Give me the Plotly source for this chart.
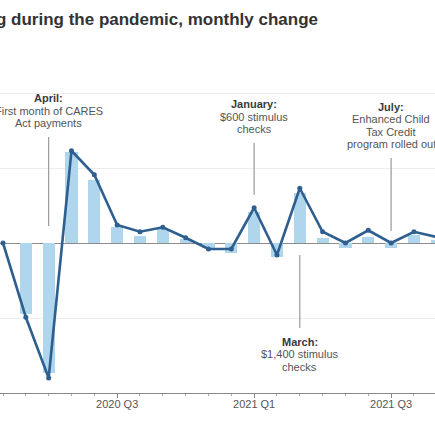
import plotly.graph_objects as go

# ---- data (monthly change, %) ----
months = ["2020-02", "2020-03", "2020-04", "2020-05", "2020-06", "2020-07",
          "2020-08", "2020-09", "2020-10", "2020-11", "2020-12", "2021-01",
          "2021-02", "2021-03", "2021-04", "2021-05", "2021-06", "2021-07",
          "2021-08", "2021-09"]
bar_values = [0.0, -4.75, -8.65, 6.05, 4.2, 1.05, 0.45, 0.95, 0.25, -0.3,
              -0.65, 2.05, -0.95, 3.35, 0.35, -0.35, 0.4, -0.35, 0.55, 0.2]
line_values = [0.0, -4.95, -9.0, 6.15, 4.55, 1.2, 0.75, 1.05, 0.35, -0.4,
               -0.4, 2.35, -0.8, 3.65, 0.75, 0.0, 0.85, 0.0, 0.75, 0.4]
tick_months = ["2020-01", "2020-07", "2021-01", "2021-07"]
tick_labels = ["2020 Q1", "2020 Q3", "2021 Q1", "2021 Q3"]
title_text = "Consumer spending during the pandemic, monthly change"

events = [
    # month, heading, body lines, connector from, connector to, side
    ("2020-04", "April:", ["First month of CARES", "Act payments"], 7.07, 1.13, "above"),
    ("2021-01", "January:", ["$600 stimulus", "checks"], 6.67, 3.2, "above"),
    ("2021-07", "July:", ["Enhanced Child", "Tax Credit", "program rolled out"], 5.67, 0.8, "above"),
    ("2021-03", "March:", ["$1,400 stimulus", "checks"], -0.8, -5.67, "below"),
]


def midx(m):
    y, mo = m.split("-")
    return (int(y) - 2020) * 12 + int(mo) - 1


x = [midx(m) for m in months]

BAR = "#b0d6ee"
LINE = "#2e5f8f"
TXT = "#3a3a3a"
FONT = "Liberation Sans, Arial, sans-serif"

fig = go.Figure()
fig.add_trace(go.Bar(x=x, y=bar_values, marker=dict(color=BAR, line=dict(width=0)),
                     width=0.53, showlegend=False))
fig.add_trace(go.Scatter(x=x, y=line_values, mode="lines+markers",
                         line=dict(color=LINE, width=2.6),
                         marker=dict(color=LINE, size=5), showlegend=False,
                         cliponaxis=False))

px_per_month = 22.83
x0 = 1 - 3 / px_per_month
x1 = x0 + 435 / px_per_month

annotations = []
shapes = []
LINE_H = 12.3
for m, head, body, c_from, c_to, side in events:
    xi = midx(m)
    shapes.append(dict(type="line", xref="x", yref="y", x0=xi, x1=xi, y0=c_from, y1=c_to,
                       line=dict(color="#9a9a9a", width=1.2)))
    lines = [(head, True)] + [(b, False) for b in body]
    n = len(lines)
    for k, (t, bold) in enumerate(lines):
        if side == "above":
            shift = 6 + (n - 1 - k) * LINE_H
            yanchor = "bottom"
        else:
            shift = -6 - k * LINE_H
            yanchor = "top"
        annotations.append(dict(
            x=xi, y=c_from if side == "above" else c_to, xref="x", yref="y",
            text=f"<b>{t}</b>" if bold else t, showarrow=False,
            xanchor="center", yanchor=yanchor, yshift=shift,
            font=dict(family=FONT, size=11, color=TXT if bold else "#555555")))

# title (its left part lies outside the visible window in the reference)
annotations.append(dict(x=320 / 435, y=1, xref="paper", yref="paper", yanchor="middle",
                        xanchor="right", yshift=71,
                        text=f"<b>{title_text}</b>", showarrow=False,
                        font=dict(family=FONT, size=17, color="#333333")))
# first quarter label lies left of the visible window
annotations.append(dict(x=midx(tick_months[0]), y=0, xref="x", yref="paper",
                        yanchor="top", xanchor="center", yshift=-4,
                        text=tick_labels[0], showarrow=False,
                        font=dict(family=FONT, size=11, color="#555555")))

fig.update_layout(
    width=435, height=435,
    margin=dict(l=0, r=0, t=90, b=42),
    paper_bgcolor="white", plot_bgcolor="white",
    bargap=0,
    shapes=shapes,
    annotations=annotations,
    font=dict(family=FONT, color="#555555"),
    xaxis=dict(range=[x0, x1], tickmode="array",
               tickvals=[midx(m) for m in tick_months], ticktext=tick_labels,
               ticks="outside", ticklen=4, tickcolor="#888888", tickwidth=1,
               ticklabelstandoff=-3,
               showline=True, linecolor="#888888", linewidth=1,
               showgrid=False, zeroline=False,
               tickfont=dict(family=FONT, size=11, color="#555555"),
               minor=dict(dtick=1, tick0=0, ticks="outside", ticklen=2,
                          tickcolor="#aaaaaa", showgrid=False)),
    yaxis=dict(range=[-10, 10.2], dtick=5, tick0=0, showticklabels=False,
               showgrid=True, gridcolor="#ececec", gridwidth=1,
               zeroline=True, zerolinecolor="#8c8c8c", zerolinewidth=1.3,
               showline=False, ticks=""),
)

fig.write_html("out.html",
               config={"displayModeBar": False},
               post_script="document.body.style.margin='0';"
                           "document.body.style.overflow='hidden';")
